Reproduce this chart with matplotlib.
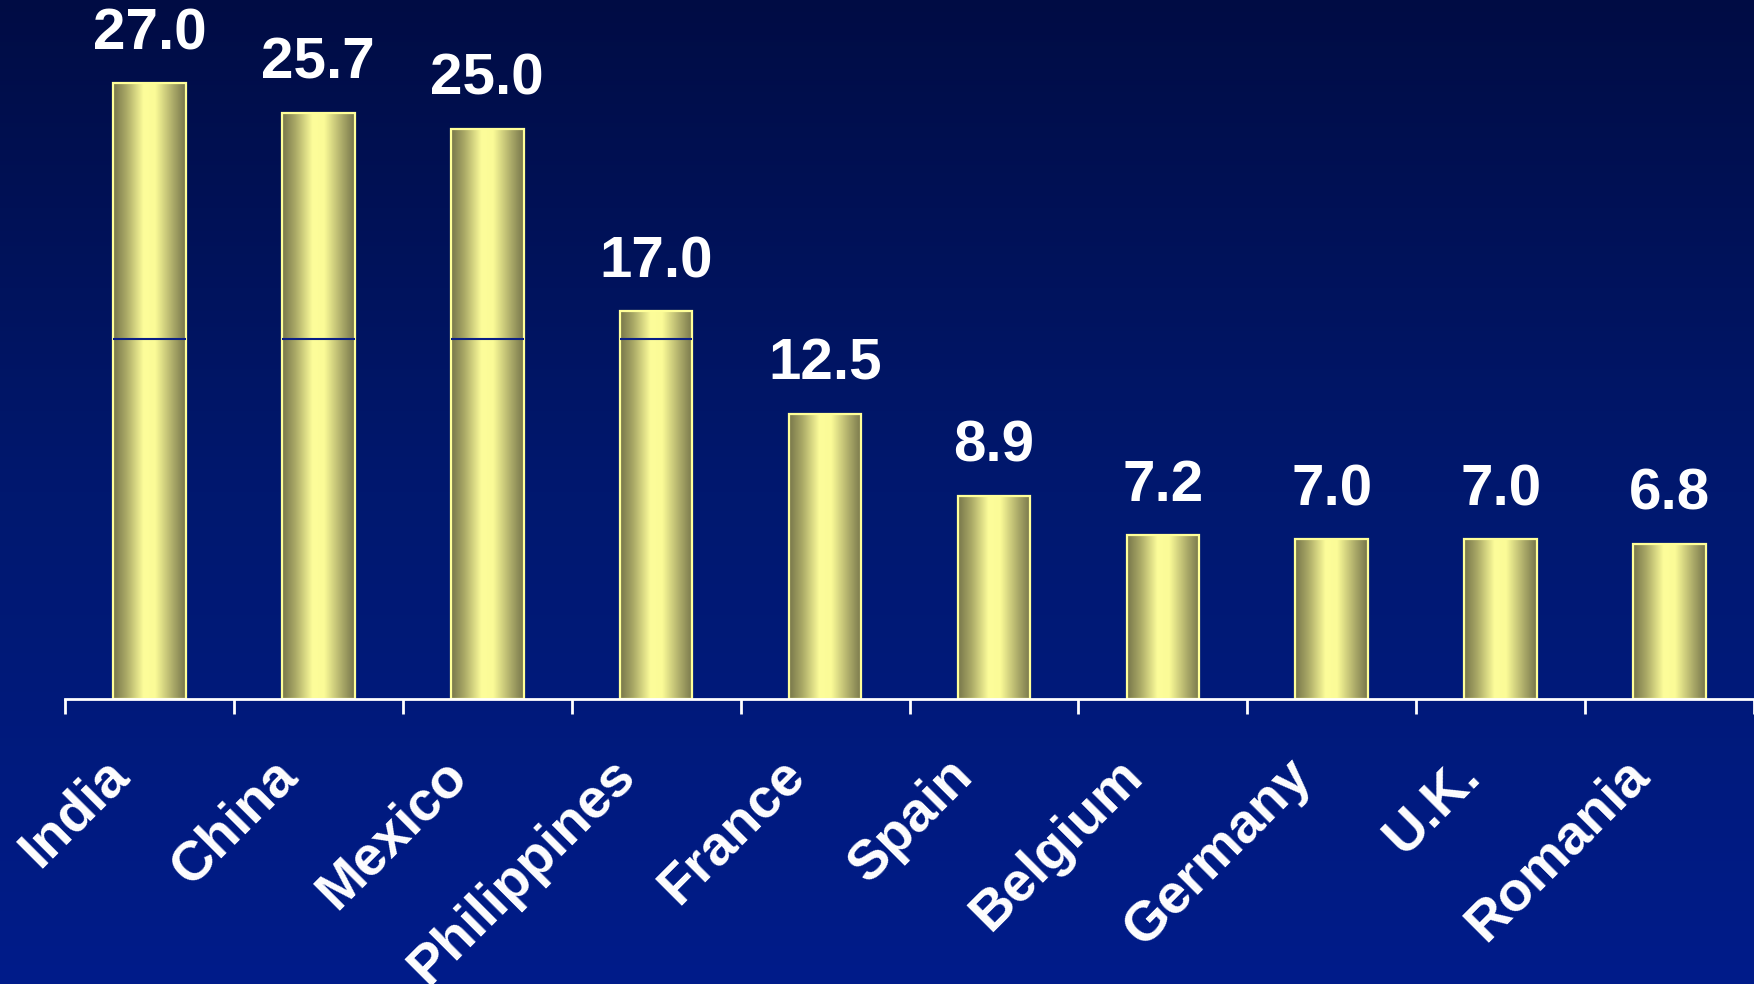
import numpy as np
import matplotlib
matplotlib.use("Agg")
import matplotlib.pyplot as plt
import matplotlib.transforms as mtransforms
from matplotlib.colors import LinearSegmentedColormap

countries = ["India", "China", "Mexico", "Philippines", "France",
             "Spain", "Belgium", "Germany", "U.K.", "Romania"]
values = [27.0, 25.7, 25.0, 17.0, 12.5, 8.9, 7.2, 7.0, 7.0, 6.8]
value_labels = ["27.0", "25.7", "25.0", "17.0", "12.5", "8.9", "7.2", "7.0", "7.0", "6.8"]
grid_level = 15.8

plt.rcParams['font.family'] = ['Liberation Sans', 'DejaVu Sans']

W, H, DPI = 1754, 984, 100
fig = plt.figure(figsize=(W / DPI, H / DPI), dpi=DPI)

# background: vertical navy gradient
bg = fig.add_axes([0, 0, 1, 1], zorder=0)
bg_cmap = LinearSegmentedColormap.from_list(
    "bg", ["#001c8a", "#00186f", "#000c44"])
grad = np.linspace(0, 1, 256).reshape(-1, 1)
bg.imshow(grad, cmap=bg_cmap, aspect="auto", extent=(0, 1, 0, 1), origin="lower")
bg.set_axis_off()

# plotting area
left = 65 / W
bottom = 285 / H
ymax = 699 / (616 / 27.0)
ax = fig.add_axes([left, bottom, 1 - left, 1 - bottom], zorder=1)
ax.set_facecolor("none")

bar_cmap = LinearSegmentedColormap.from_list(
    "bar", [(0.0, "#77764a"), (0.18, "#a9a866"), (0.42, "#fdfd9a"),
            (0.58, "#fbfb97"), (0.82, "#adac6a"), (1.0, "#76754a")])
profile = np.linspace(0, 1, 256).reshape(1, -1)

width = 0.43
xs = np.arange(len(countries))
bars = ax.bar(xs, values, width=width,
              facecolor="none", edgecolor="#ffff99", linewidth=1.6, zorder=4)
for rect in bars:
    x0 = rect.get_x()
    h = rect.get_height()
    im = ax.imshow(profile, cmap=bar_cmap, aspect="auto",
                   extent=(x0, x0 + width, 0, h), zorder=3)
    im.set_clip_path(rect)

ax.set_xlim(-0.5, len(countries) - 0.5)
ax.set_ylim(0, ymax)

# grid level shows only where it crosses a bar
tall = [i for i, v in enumerate(values) if v > grid_level]
ax.hlines([grid_level] * len(tall), xs[tall] - width / 2, xs[tall] + width / 2,
          color="#0a1f86", linewidth=1.5, zorder=5)

for i, (v, lab) in enumerate(zip(values, value_labels)):
    ax.annotate(lab, (i, v), xytext=(0, 22), textcoords="offset pixels",
                ha="center", va="bottom", color="white",
                fontsize=42, fontweight="bold", zorder=6)

for s in ["left", "right", "top"]:
    ax.spines[s].set_visible(False)
ax.spines["bottom"].set_color("white")
ax.spines["bottom"].set_linewidth(2)
ax.spines["bottom"].set_zorder(6)
ax.set_yticks([])

ax.set_xticks(np.arange(len(countries) + 1) - 0.5, minor=True)
ax.tick_params(axis="x", which="minor", length=11, width=2, color="white")
ax.set_xticks(xs)
ax.set_xticklabels(countries, rotation=45, ha="right", va="top",
                   rotation_mode="anchor", color="white",
                   fontsize=40, fontweight="bold")
ax.tick_params(axis="x", which="major", length=0, pad=36)
shift = mtransforms.ScaledTranslation(-47 / DPI, 0, fig.dpi_scale_trans)
for t in ax.get_xticklabels():
    t.set_transform(t.get_transform() + shift)

fig.savefig("out.png", dpi=DPI)
